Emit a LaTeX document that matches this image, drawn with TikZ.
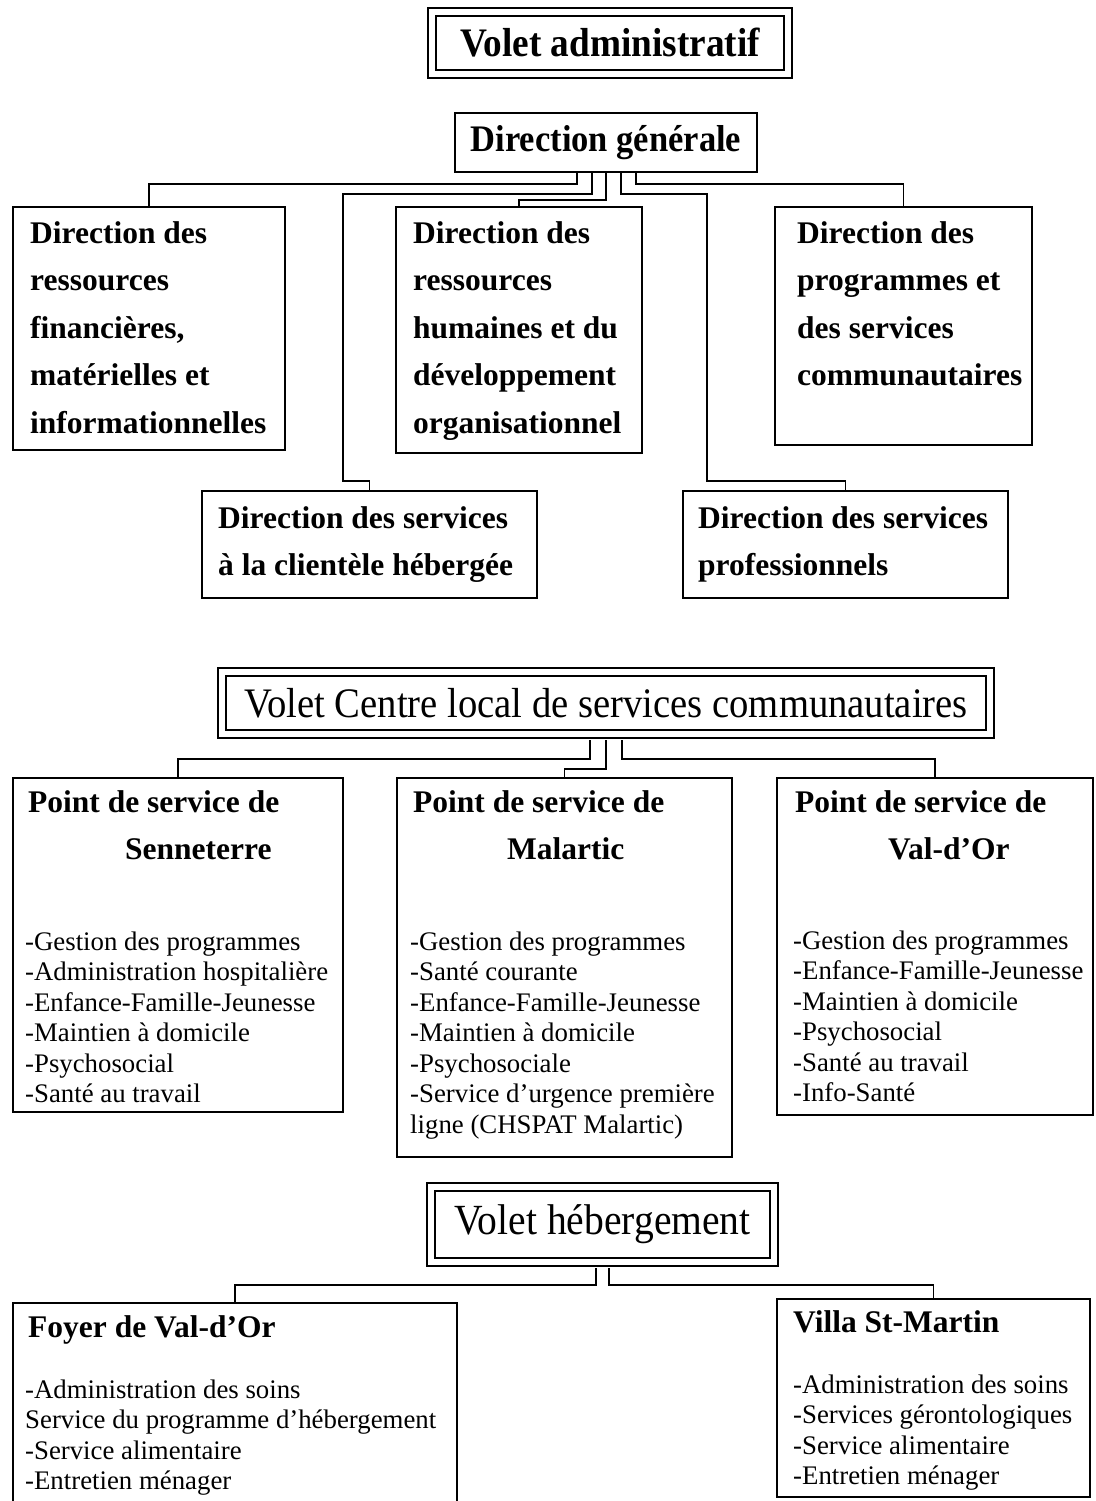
\documentclass[tikz,border=0pt]{standalone}
\usepackage{fontspec}
\setmainfont{Liberation Serif}
\newfontfamily\condfont[FakeStretch=0.92]{Liberation Serif}
\begin{document}
\begin{tikzpicture}[x=1pt,y=-1pt,
  box/.style={draw, line width=2.2pt, inner sep=0pt},
  ttl/.style={draw, line width=2pt, double, double distance=6pt, inner sep=0pt},
  conn/.style={line width=1.6pt},
  hdr/.style={anchor=base west, inner sep=0pt, font=\bfseries\fontsize{31.5}{47.5}\selectfont},
  lst/.style={anchor=base west, inner sep=0pt, font=\fontsize{26.8}{30.5}\selectfont},
]
\useasboundingbox[fill=white] (0,0) rectangle (1095,1501);

% ---------- Volet administratif ----------
\node[ttl, minimum width=356pt, minimum height=62pt, font=\condfont\bfseries\fontsize{40.5}{42}\selectfont] (T1) at (610,43) {Volet administratif};
\node[box, line width=2pt, minimum width=302pt, minimum height=59pt, font=\condfont\bfseries\fontsize{37.5}{40}\selectfont] (DG) at (606,142.5) {Direction générale};

\node[box, minimum width=272pt, minimum height=243pt] (B1) at (149,328.5) {};
\node[box, minimum width=246pt, minimum height=246pt] (B2) at (519,330) {};
\node[box, minimum width=257pt, minimum height=238pt] (B3) at (903.5,326) {};
\node[box, minimum width=335pt, minimum height=107pt] (B4) at (369.5,544.5) {};
\node[box, minimum width=325pt, minimum height=107pt] (B5) at (845.5,544.5) {};

\node[hdr] (B1t) at (30,243) {\parbox[t]{300pt}{Direction des\\ressources\\financières,\\matérielles et\\informationnelles}};
\node[hdr] (B2t) at (413,243) {\parbox[t]{300pt}{Direction des\\ressources\\humaines et du\\développement\\organisationnel}};
\node[hdr] (B3t) at (797,243) {\parbox[t]{300pt}{Direction des\\programmes et\\des services\\communautaires}};
\node[hdr] (B4t) at (218,528) {\parbox[t]{400pt}{Direction des services\\à la clientèle hébergée}};
\node[hdr] (B5t) at (698,528) {\parbox[t]{400pt}{Direction des services\\professionnels}};

\draw[conn] ([xshift=-29pt]DG.south) -- ++(0,11) -| (B1.north);
\draw[conn] ([xshift=30pt]DG.south) -- ++(0,11) -| (B3.north);
\draw[conn] (DG.south) -- ++(0,27) -| (B2.north);
\draw[conn] ([xshift=-14pt]DG.south) -- ++(0,21) -| (343,481) -| (B4.north);
\draw[conn] ([xshift=15pt]DG.south) -- ++(0,21) -| (707,481) -| (B5.north);

% ---------- Volet CLSC ----------
\node[ttl, minimum width=768pt, minimum height=62pt, font=\condfont\fontsize{42}{44}\selectfont] (CL) at (606,703) {Volet Centre local de services communautaires};

\node[box, minimum width=330pt, minimum height=334pt] (S1) at (178,945) {};
\node[box, minimum width=335pt, minimum height=379pt] (S2) at (564.5,967.5) {};
\node[box, minimum width=316pt, minimum height=337pt] (S3) at (935,946.5) {};

\node[hdr] (S1h) at (28,812) {\parbox[t]{320pt}{Point de service de\\\hspace*{97pt}Senneterre}};
\node[hdr] (S2h) at (413,812) {\parbox[t]{320pt}{Point de service de\\\hspace*{94pt}Malartic}};
\node[hdr] (S3h) at (795,812) {\parbox[t]{300pt}{Point de service de\\\hspace*{93pt}Val-d’Or}};

\node[lst] (S1l) at (25,950) {\parbox[t]{330pt}{-Gestion des programmes\\-Administration hospitalière\\-Enfance-Famille-Jeunesse\\-Maintien à domicile\\-Psychosocial\\-Santé au travail}};
\node[lst] (S2l) at (410,950) {\parbox[t]{330pt}{-Gestion des programmes\\-Santé courante\\-Enfance-Famille-Jeunesse\\-Maintien à domicile\\-Psychosociale\\-Service d’urgence première\\ligne (CHSPAT Malartic)}};
\node[lst] (S3l) at (793,949) {\parbox[t]{300pt}{-Gestion des programmes\\-Enfance-Famille-Jeunesse\\-Maintien à domicile\\-Psychosocial\\-Santé au travail\\-Info-Santé}};

\draw[conn] ([xshift=-16pt,yshift=-5pt]CL.south) -- ++(0,19) -| (S1.north);
\draw[conn] ([yshift=-5pt]CL.south) -- ++(0,29) -| (S2.north);
\draw[conn] ([xshift=16pt,yshift=-5pt]CL.south) -- ++(0,19) -| (S3.north);

% ---------- Volet hebergement ----------
\node[ttl, minimum width=343pt, minimum height=75pt, font=\condfont\fontsize{43}{45}\selectfont] (HB) at (602.5,1224.5) {Volet hébergement};

\node[box, minimum width=444pt, minimum height=207pt] (F1) at (235,1406.5) {};
\node[box, minimum width=313pt, minimum height=198pt] (F2) at (933.5,1398) {};

\node[hdr] (F1h) at (28,1337) {Foyer de Val-d’Or};
\node[hdr] (F2h) at (793,1332) {Villa St-Martin};
\node[lst] (F1l) at (25,1398) {\parbox[t]{440pt}{-Administration des soins\\Service du programme d’hébergement\\-Service alimentaire\\-Entretien ménager}};
\node[lst] (F2l) at (793,1393) {\parbox[t]{300pt}{-Administration des soins\\-Services gérontologiques\\-Service alimentaire\\-Entretien ménager}};

\draw[conn] ([xshift=-6.5pt,yshift=-5pt]HB.south) -- ++(0,17) -| (F1.north);
\draw[conn] ([xshift=6.5pt,yshift=-5pt]HB.south) -- ++(0,17) -| (F2.north);
\end{tikzpicture}
\end{document}
